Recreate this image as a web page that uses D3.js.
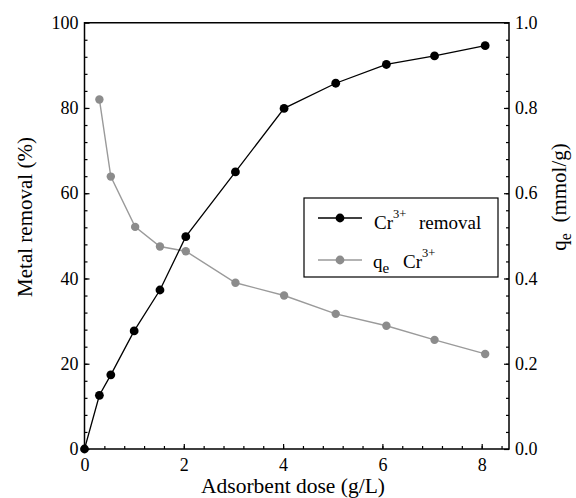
<!DOCTYPE html>
<html lang="en">
<head>
  <meta charset="UTF-8">
  <title>Adsorbent dose</title>
  <script src="https://d3js.org/d3.v7.min.js"></script>
  <style>
    body { margin: 0; background: #fff; }
  </style>
</head>
<body>
  <div id="chart"></div>
  <script>
    // values
    const dose = [0, 0.3, 0.53, 1.0, 1.52, 2.04, 3.04, 4.02, 5.06, 6.08, 7.05, 8.07];
    const removal = [0, 12.6, 17.4, 27.7, 37.3, 49.8, 65.0, 79.9, 85.8, 90.2, 92.2, 94.6];
    const qeDose = [0.3, 0.53, 1.02, 1.52, 2.04, 3.04, 4.02, 5.06, 6.08, 7.05, 8.07];
    const qe = [0.820, 0.639, 0.521, 0.475, 0.464, 0.390, 0.360, 0.317, 0.289, 0.256, 0.223];
    const xTicks = [0, 2, 4, 6, 8];
    const yTicks = [0, 20, 40, 60, 80, 100];
    const yRTicks = [0, 0.2, 0.4, 0.6, 0.8, 1.0];

    const W = 576, H = 498;
    const pL = 84.5, pR = 509, pT = 22.7, pB = 449;
    const serif = "'Liberation Serif', 'Times New Roman', Times, 'DejaVu Serif', serif";

    const svg = d3.select("#chart").append("svg")
      .attr("width", W).attr("height", H);

    const x = d3.scaleLinear().domain([0, 8.55]).range([pL, pR]);
    const y = d3.scaleLinear().domain([0, 100]).range([pB, pT]);
    const yR = d3.scaleLinear().domain([0, 1]).range([pB, pT]);

    const noDomain = g => g.select(".domain").remove();

    // minor ticks
    svg.append("g").attr("transform", `translate(0,${pB})`)
      .call(d3.axisBottom(x).tickValues(d3.range(0.4, 8.5, 0.4)).tickFormat("").tickSize(-3))
      .call(noDomain);
    svg.append("g").attr("transform", `translate(${pL},0)`)
      .call(d3.axisLeft(y).tickValues(d3.range(4, 100, 4)).tickFormat("").tickSize(-3))
      .call(noDomain);
    svg.append("g").attr("transform", `translate(${pR},0)`)
      .call(d3.axisRight(yR).tickValues(d3.range(0.04, 1, 0.04)).tickFormat("").tickSize(-3))
      .call(noDomain);

    // major ticks
    const xAxis = svg.append("g").attr("transform", `translate(0,${pB})`)
      .call(d3.axisBottom(x).tickValues(xTicks).tickFormat(d3.format("d")).tickSize(-5).tickPadding(9))
      .call(noDomain);
    const yAxis = svg.append("g").attr("transform", `translate(${pL},0)`)
      .call(d3.axisLeft(y).tickValues(yTicks).tickFormat(d3.format("d")).tickSize(-5).tickPadding(6))
      .call(noDomain);
    const yRAxis = svg.append("g").attr("transform", `translate(${pR},0)`)
      .call(d3.axisRight(yR).tickValues(yRTicks).tickFormat(d3.format(".1f")).tickSize(-5).tickPadding(6))
      .call(noDomain);

    [xAxis, yAxis, yRAxis].forEach(g => {
      g.selectAll("text").style("font-size", "18px").style("font-family", serif).attr("fill", "#000");
    });
    svg.selectAll(".tick line").attr("stroke", "#000").attr("stroke-width", 1.2);

    // frame
    svg.append("path")
      .attr("d", `M${pL},${pB}V${pT}H${pR}V${pB}Z`)
      .attr("fill", "none").attr("stroke", "#000").attr("stroke-width", 1.5);

    // series
    const qeData = qeDose.map((d, i) => [d, qe[i]]);
    const remData = dose.map((d, i) => [d, removal[i]]);

    svg.append("path").datum(qeData)
      .attr("fill", "none").attr("stroke", "#9a9a9a").attr("stroke-width", 1.4)
      .attr("d", d3.line().x(d => x(d[0])).y(d => yR(d[1])));
    svg.append("g").selectAll("circle").data(qeData).join("circle")
      .attr("cx", d => x(d[0])).attr("cy", d => yR(d[1])).attr("r", 4.2)
      .attr("fill", "#8c8c8c");

    svg.append("path").datum(remData)
      .attr("fill", "none").attr("stroke", "#000").attr("stroke-width", 1.3)
      .attr("d", d3.line().x(d => x(d[0])).y(d => y(d[1])));
    svg.append("g").selectAll("circle").data(remData).join("circle")
      .attr("cx", d => x(d[0])).attr("cy", d => y(d[1])).attr("r", 4.4)
      .attr("fill", "#000");

    // axis titles
    svg.append("text")
      .attr("x", 293).attr("y", 493).attr("text-anchor", "middle")
      .style("font-family", serif).style("font-size", "21.5px").text("Adsorbent dose (g/L)");

    svg.append("text")
      .attr("transform", "translate(32,217) rotate(-90)").attr("text-anchor", "middle")
      .style("font-family", serif).style("font-size", "21px").text("Metal removal (%)");

    const rt = svg.append("text")
      .attr("transform", "translate(566,197) rotate(-90)").attr("text-anchor", "middle")
      .style("font-family", serif).style("font-size", "21px");
    rt.append("tspan").text("q");
    rt.append("tspan").attr("dy", 5).style("font-size", "16px").text("e");
    rt.append("tspan").attr("dy", -5).text("\u2002(mmol/g)");

    // legend
    const lg = svg.append("g");
    lg.append("rect").attr("x", 304).attr("y", 198).attr("width", 194).attr("height", 79)
      .attr("fill", "#fff").attr("stroke", "#000").attr("stroke-width", 1.2);

    const rows = [
      {ly: 218, ty: 229, line: "#000", mark: "#000"},
      {ly: 260, ty: 268, line: "#9a9a9a", mark: "#8c8c8c"}
    ];
    rows.forEach(r => {
      lg.append("line").attr("x1", 318).attr("x2", 362).attr("y1", r.ly).attr("y2", r.ly)
        .attr("stroke", r.line).attr("stroke-width", 1.4);
      lg.append("circle").attr("cx", 340).attr("cy", r.ly).attr("r", 4.4).attr("fill", r.mark);
    });

    const t1 = lg.append("text").attr("x", 374).attr("y", rows[0].ty)
      .style("font-family", serif).style("font-size", "19px");
    t1.append("tspan").text("Cr");
    t1.append("tspan").attr("dy", -11).style("font-size", "12.5px").text("3+");
    t1.append("tspan").attr("x", 419).attr("dy", 11).text("removal");

    const t2 = lg.append("text").attr("x", 373).attr("y", rows[1].ty)
      .style("font-family", serif).style("font-size", "19px");
    t2.append("tspan").text("q");
    t2.append("tspan").attr("dy", 5).style("font-size", "15px").text("e");
    t2.append("tspan").attr("x", 403).attr("dy", -5).text("Cr");
    t2.append("tspan").attr("dy", -11).style("font-size", "12.5px").text("3+");
  </script>
</body>
</html>
